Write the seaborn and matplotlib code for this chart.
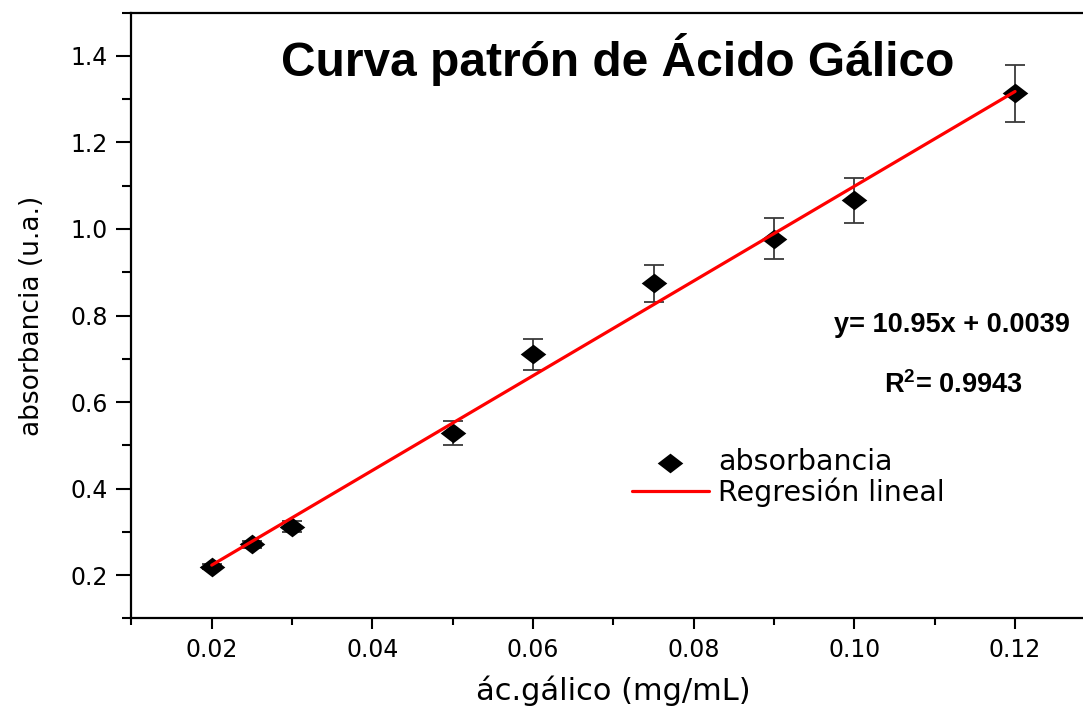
import seaborn as sns
import matplotlib.pyplot as plt
import pandas as pd
from matplotlib.ticker import MultipleLocator

# datos de la curva patron
conc = [0.02, 0.025, 0.03, 0.05, 0.06, 0.075, 0.09, 0.10, 0.12]
absorb = [0.219, 0.271, 0.312, 0.529, 0.710, 0.874, 0.978, 1.066, 1.314]
err = [0.006, 0.008, 0.012, 0.028, 0.036, 0.043, 0.048, 0.052, 0.066]
slope = 10.95
intercept = 0.0039
r2 = 0.9943

df = pd.DataFrame({'conc': conc, 'abs': absorb, 'err': err})
df['fit'] = slope * df['conc'] + intercept

sns.set_style('ticks')
plt.rcParams['font.family'] = ['DejaVu Sans']
plt.rcParams['text.color'] = 'black'
plt.rcParams['axes.labelcolor'] = 'black'
plt.rcParams['xtick.color'] = 'black'
plt.rcParams['ytick.color'] = 'black'
plt.rcParams['mathtext.fontset'] = 'custom'
plt.rcParams['mathtext.bf'] = 'Liberation Sans:bold'
plt.rcParams['mathtext.rm'] = 'Liberation Sans:bold'

W, H = 1083, 706
fig = plt.figure(figsize=(W / 100, H / 100), dpi=100)
ax = fig.add_axes([131.4 / W, (H - 618.3) / H, 964 / W, (618.3 - 12.7) / H])

diamond = [(-1, 0), (0, 0.77), (1, 0), (0, -0.77)]

ax.errorbar(df['conc'], df['abs'], yerr=df['err'], fmt='none', ecolor='#3a3a3a',
            elinewidth=1.3, capsize=7, capthick=1.3, zorder=2)
sns.scatterplot(data=df, x='conc', y='abs', marker=diamond, s=340, color='black',
                edgecolor='black', linewidth=0, label='absorbancia', ax=ax, zorder=3)
sns.lineplot(data=df, x='conc', y='fit', color='#ff0000', linewidth=2.3,
             label='Regresión lineal', ax=ax, zorder=4)

ax.set_xlim(0.01, 0.13)
ax.set_ylim(0.1, 1.5)
ax.xaxis.set_major_locator(MultipleLocator(0.02))
ax.xaxis.set_minor_locator(MultipleLocator(0.01))
ax.yaxis.set_major_locator(MultipleLocator(0.2))
ax.yaxis.set_minor_locator(MultipleLocator(0.1))
ax.xaxis.set_major_formatter(plt.FuncFormatter(lambda v, p: f'{v:.2f}'))
ax.yaxis.set_major_formatter(plt.FuncFormatter(lambda v, p: f'{v:.1f}'))
ax.tick_params(axis='x', which='major', length=8, width=1.5, labelsize=17, pad=6)
ax.tick_params(axis='x', which='minor', length=5, width=1.5)
ax.tick_params(axis='y', which='major', length=11, width=1.5, labelsize=17, pad=6)
ax.tick_params(axis='y', which='minor', length=6.5, width=1.5)
for s in ['left', 'bottom', 'top', 'right']:
    ax.spines[s].set_linewidth(1.6)
    ax.spines[s].set_color('black')

ax.set_xlabel('ác.gálico (mg/mL)', fontsize=22, labelpad=10)
ax.set_ylabel('absorbancia (u.a.)', fontsize=19, labelpad=18)

ax.legend(loc='upper left', bbox_to_anchor=(632 / W, 1 - 448 / H), bbox_transform=fig.transFigure,
          frameon=False, fontsize=20.5, handlelength=2.7, handletextpad=0.33,
          labelspacing=0.05, borderpad=0, borderaxespad=0, markerscale=1.0)

fig.text(618 / W, 1 - 60 / H, 'Curva patrón de Ácido Gálico', ha='center', va='center',
         fontsize=34.5, fontweight='bold', family=['Liberation Sans'])
fig.text(952 / W, 1 - 325 / H, f'y= {slope}x + {intercept}', ha='center', va='center',
         fontsize=19.5, fontweight='bold', family=['Liberation Sans'])
fig.text(953 / W, 1 - 385 / H, r'R$^{\mathbf{2}}$= ' + f'{r2}', ha='center', va='center',
         fontsize=19.5, fontweight='bold', family=['Liberation Sans'])

fig.savefig('out.png', dpi=100)
